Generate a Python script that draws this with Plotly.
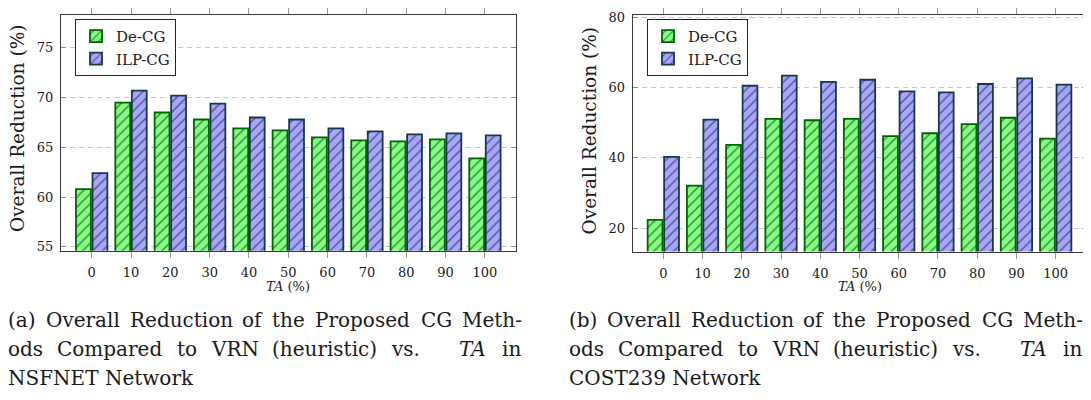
import plotly.graph_objects as go
from plotly.subplots import make_subplots

# data
ta_labels = ["0", "10", "20", "30", "40", "50", "60", "70", "80", "90", "100"]

nsfnet_decg = [60.8, 69.5, 68.5, 67.8, 66.9, 66.7, 66.0, 65.7, 65.6, 65.8, 63.9]
nsfnet_ilpcg = [62.4, 70.7, 70.2, 69.4, 68.0, 67.8, 66.9, 66.6, 66.3, 66.4, 66.2]

cost239_decg = [22.4, 32.1, 43.7, 51.1, 50.7, 51.1, 46.2, 47.0, 49.6, 51.4, 45.5]
cost239_ilpcg = [40.3, 50.9, 60.5, 63.4, 61.6, 62.2, 58.9, 58.6, 61.0, 62.6, 60.8]

nsfnet_yticks = [55, 60, 65, 70, 75]
cost239_yticks = [20, 40, 60, 80]

FONT = "DejaVu Serif"
TEXT = "#1a1a1a"
GREEN_FILL = "#80FF80"
GREEN_EDGE = "#006400"
BLUE_FILL = "#A6A6FF"
BLUE_EDGE = "#16384A"

# page has an 8px body margin, so the figure is a bit smaller and shifted
W, H = 1083, 392


def fx(px):
    return (px - 8) / W


def fy(py):
    return 1 - (py - 8) / H


fig = make_subplots(rows=1, cols=2)


def add_bars(col, decg, ilpcg):
    leg = "legend" if col == 1 else "legend2"
    for name, vals, fill, edge in [("De-CG", decg, GREEN_FILL, GREEN_EDGE),
                                   ("ILP-CG", ilpcg, BLUE_FILL, BLUE_EDGE)]:
        fig.add_trace(go.Bar(
            x=list(range(len(ta_labels))), y=vals, name=name, legend=leg,
            marker=dict(color=fill, line=dict(color=edge, width=1.8),
                        pattern=dict(shape="/", fgcolor="black", bgcolor=fill,
                                     size=7, solidity=0.2)),
        ), row=1, col=col)


add_bars(1, nsfnet_decg, nsfnet_ilpcg)
add_bars(2, cost239_decg, cost239_ilpcg)

axis_common = dict(showline=True, linecolor="#3a3a3a", linewidth=1, mirror="ticks",
                   tickfont=dict(family=FONT, size=13, color=TEXT),
                   zeroline=False)

fig.update_xaxes(**axis_common, tickmode="array", tickvals=list(range(len(ta_labels))),
                 ticktext=ta_labels, ticks="outside", ticklen=6, tickcolor="#999999",
                 ticklabelstandoff=4, showgrid=False, range=[-0.78, 10.79])
fig.update_xaxes(domain=[fx(61), fx(516)], row=1, col=1)
fig.update_xaxes(domain=[fx(632.7), fx(1086.7)], row=1, col=2)

fig.update_yaxes(**axis_common, ticks="inside", ticklen=5, tickcolor="#888888",
                 ticklabelstandoff=4,
                 showgrid=True, gridcolor="#C8C8C8", griddash="5px,4px", gridwidth=1)
fig.update_yaxes(domain=[fy(250), 1.0], range=[54.6, 78.3], tickvals=nsfnet_yticks,
                 row=1, col=1)
fig.update_yaxes(domain=[fy(250.7), 1.0], range=[13.4, 80.6], tickvals=cost239_yticks,
                 row=1, col=2)

legend_style = dict(font=dict(family=FONT, size=15, color=TEXT),
                    bgcolor="white", bordercolor="#222222", borderwidth=1,
                    xanchor="left", yanchor="top", itemwidth=30,
                    tracegroupgap=0)

fig.update_layout(
    width=W, height=H,
    margin=dict(l=0, r=0, t=0, b=0),
    plot_bgcolor="white", paper_bgcolor="white",
    barmode="group", bargap=0.16, bargroupgap=0.1,
    showlegend=True,
    legend=dict(**legend_style, x=fx(75), y=fy(12)),
    legend2=dict(**legend_style, x=fx(647), y=fy(12)),
    font=dict(family=FONT),
)

# axis titles
for xc, yc in [(17, 125), (589, 127.5)]:
    fig.add_annotation(text="Overall Reduction (%)", x=fx(xc), y=fy(yc),
                       xref="paper", yref="paper", textangle=-90, showarrow=False,
                       xanchor="center", yanchor="middle",
                       font=dict(family=FONT, size=18.5, color=TEXT))
for xc in [288, 860]:
    fig.add_annotation(text="<i>TA</i> (%)", x=fx(xc), y=fy(287),
                       xref="paper", yref="paper", showarrow=False,
                       xanchor="center", yanchor="middle",
                       font=dict(family=FONT, size=13, color=TEXT))

# captions, placed word by word to mimic the justified LaTeX text
caption_line1 = [("({})", 0), ("Overall", 38), ("Reduction", 122), ("of", 234),
                 ("the", 264), ("Proposed", 307), ("CG", 413), ("Meth-", 454)]
caption_line2 = [("ods", 0), ("Compared", 49), ("to", 169), ("VRN", 203),
                 ("(heuristic)", 264), ("vs.", 383), ("<i>TA</i>", 451), ("in", 494)]
captions = [("a", "NSFNET Network", 6), ("b", "COST239 Network", 567)]

for letter, last_line, x0 in captions:
    lines = [
        [(w.format(letter), dx) for w, dx in caption_line1],
        caption_line2,
        [(last_line, 0)],
    ]
    for i, words in enumerate(lines):
        yc = 321 + i * 30
        for word, dx in words:
            fig.add_annotation(text=word, x=fx(x0 + dx), y=fy(yc),
                               xref="paper", yref="paper",
                               xanchor="left", yanchor="middle", showarrow=False,
                               font=dict(family=FONT, size=20, color=TEXT))

fig.write_html("out.html")
